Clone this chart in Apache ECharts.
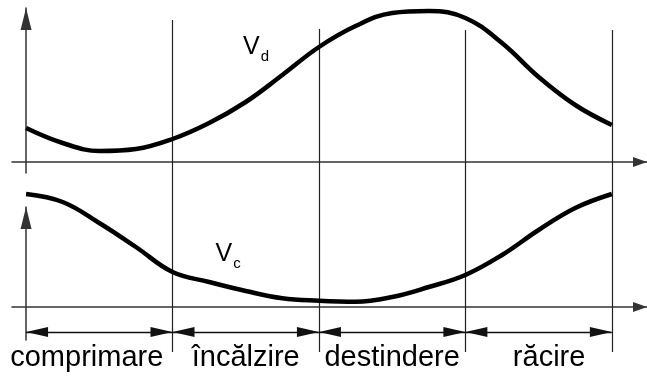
<!DOCTYPE html>
<html>
<head>
<meta charset="utf-8">
<script src="https://cdn.jsdelivr.net/npm/echarts@6/dist/echarts.min.js"></script>
<style>
  html, body { margin: 0; padding: 0; background: #fff; }
  #chart { width: 647px; height: 376px; }
</style>
</head>
<body>
<div id="chart"></div>
<script>
// phase position along the cycle (0..4), one unit per phase
var tSteps = [0, 0.25, 0.5, 0.75, 1, 1.25, 1.5, 1.75, 2, 2.25, 2.5, 2.75, 3, 3.25, 3.5, 3.75, 4];
// Vd (upper curve) and Vc (lower curve)
var vdValues = [0.34, 0.19, 0.11, 0.13, 0.23, 0.39, 0.60, 0.87, 1.15, 1.36, 1.49, 1.51, 1.44, 1.19, 0.85, 0.57, 0.37];
var vcValues = [1.13, 1.05, 0.84, 0.60, 0.35, 0.25, 0.16, 0.087, 0.063, 0.053, 0.10, 0.20, 0.32, 0.52, 0.77, 0.99, 1.13];
var phaseNames = ['comprimare', 'încălzire', 'destindere', 'răcire'];
var phaseBounds = [0, 1, 2, 3, 4];
// top end of the divider lines (overlay units)
var dividerTops = [3.32, 3.23, 3.22, 3.22];
var dimLevel = 0.2;

var font = 'Liberation Sans, Arial, sans-serif';
var axisColor = '#333';

function xAxisOpt(idx, show) {
    return {
        gridIndex: idx, type: 'value', min: -0.096, max: 4.24, show: show,
        axisLine: {
            show: true, onZero: true,
            lineStyle: { color: axisColor, width: 1.5 },
            symbol: ['none', 'triangle'], symbolSize: [10, 14], symbolOffset: [0, -7]
        },
        axisTick: { show: false }, axisLabel: { show: false }, splitLine: { show: false }
    };
}
function yAxisOpt(idx, min, max, show) {
    return {
        gridIndex: idx, type: 'value', min: min, max: max, show: show,
        axisLine: {
            show: true, onZero: true,
            lineStyle: { color: axisColor, width: 1.5 },
            symbol: ['none', 'triangle'], symbolSize: [11, 22], symbolOffset: [0, -11]
        },
        axisTick: { show: false }, axisLabel: { show: false }, splitLine: { show: false }
    };
}

var dividerLines = phaseBounds.slice(1).map(function (b, i) {
    return [{ coord: [b, 0] }, { coord: [b, dividerTops[i]] }];
});
var arrowHead = { symbol: 'triangle', symbolSize: [10, 22], symbolOffset: [0, 11] };
var dimLines = phaseNames.map(function (name, i) {
    var padRight = i === 0 ? 25 : 0;
    var padLeft = i === phaseNames.length - 1 ? 21 : 0;
    return [
        Object.assign({ coord: [phaseBounds[i], dimLevel], name: name,
          label: { padding: [0, padRight, 0, padLeft] } }, arrowHead),
        Object.assign({ coord: [phaseBounds[i + 1], dimLevel] }, arrowHead)
    ];
});

var chart = echarts.init(document.getElementById('chart'));
var option = {
    animation: false,
    grid: [
        { left: 12, right: 0, top: 8, bottom: 203 },
        { left: 12, right: 0, top: 207, bottom: 36 },
        { left: 12, right: 0, top: 20, bottom: 24 }
    ],
    xAxis: [xAxisOpt(0, true), xAxisOpt(1, true), xAxisOpt(2, false)],
    yAxis: [yAxisOpt(0, -0.11, 1.54, true), yAxisOpt(1, -0.33, 1.0, true), yAxisOpt(2, 0, 3.32, false)],
    series: [
        {
            type: 'line', xAxisIndex: 2, yAxisIndex: 2, data: [], silent: true, z: 1,
            markLine: {
                silent: true, symbol: ['none', 'none'],
                lineStyle: { color: '#222', width: 1.2, type: 'solid' },
                label: { show: false },
                data: dividerLines
            }
        },
        {
            type: 'line', xAxisIndex: 2, yAxisIndex: 2, data: [], silent: true, z: 1,
            markLine: {
                silent: true,
                symbol: ['triangle', 'triangle'],
                symbolSize: 12,
                lineStyle: { color: '#111', width: 1.4, type: 'solid' },
                label: {
                    show: true, position: 'insideMiddleBottom', distance: 11,
                    formatter: '{b}', fontFamily: font, fontSize: 29, color: '#000'
                },
                data: dimLines
            }
        },
        {
            type: 'line', xAxisIndex: 0, yAxisIndex: 0, smooth: 0.4, showSymbol: false, clip: false,
            lineStyle: { color: '#000', width: 4.5 }, z: 5,
            data: tSteps.map(function (t, i) { return [t, vdValues[i]]; }),
            markPoint: {
                symbol: 'circle', symbolSize: 1, itemStyle: { color: 'transparent' },
                label: {
                    show: true, position: 'inside', formatter: '{v|V}{s|d}',
                    rich: {
                        v: { fontFamily: font, fontSize: 25, color: '#000' },
                        s: { fontFamily: font, fontSize: 15, color: '#000', padding: [20, 0, 0, 1] }
                    }
                },
                data: [{ coord: [1.57, 1.15] }]
            }
        },
        {
            type: 'line', xAxisIndex: 1, yAxisIndex: 1, smooth: 0.4, showSymbol: false, clip: false,
            lineStyle: { color: '#000', width: 4.5 }, z: 5,
            data: tSteps.map(function (t, i) { return [t, vcValues[i]]; }),
            markPoint: {
                symbol: 'circle', symbolSize: 1, itemStyle: { color: 'transparent' },
                label: {
                    show: true, position: 'inside', formatter: '{v|V}{s|c}',
                    rich: {
                        v: { fontFamily: font, fontSize: 25, color: '#000' },
                        s: { fontFamily: font, fontSize: 15, color: '#000', padding: [20, 0, 0, 1] }
                    }
                },
                data: [{ coord: [1.38, 0.53] }]
            }
        }
    ]
};
chart.setOption(option);
</script>
</body>
</html>
